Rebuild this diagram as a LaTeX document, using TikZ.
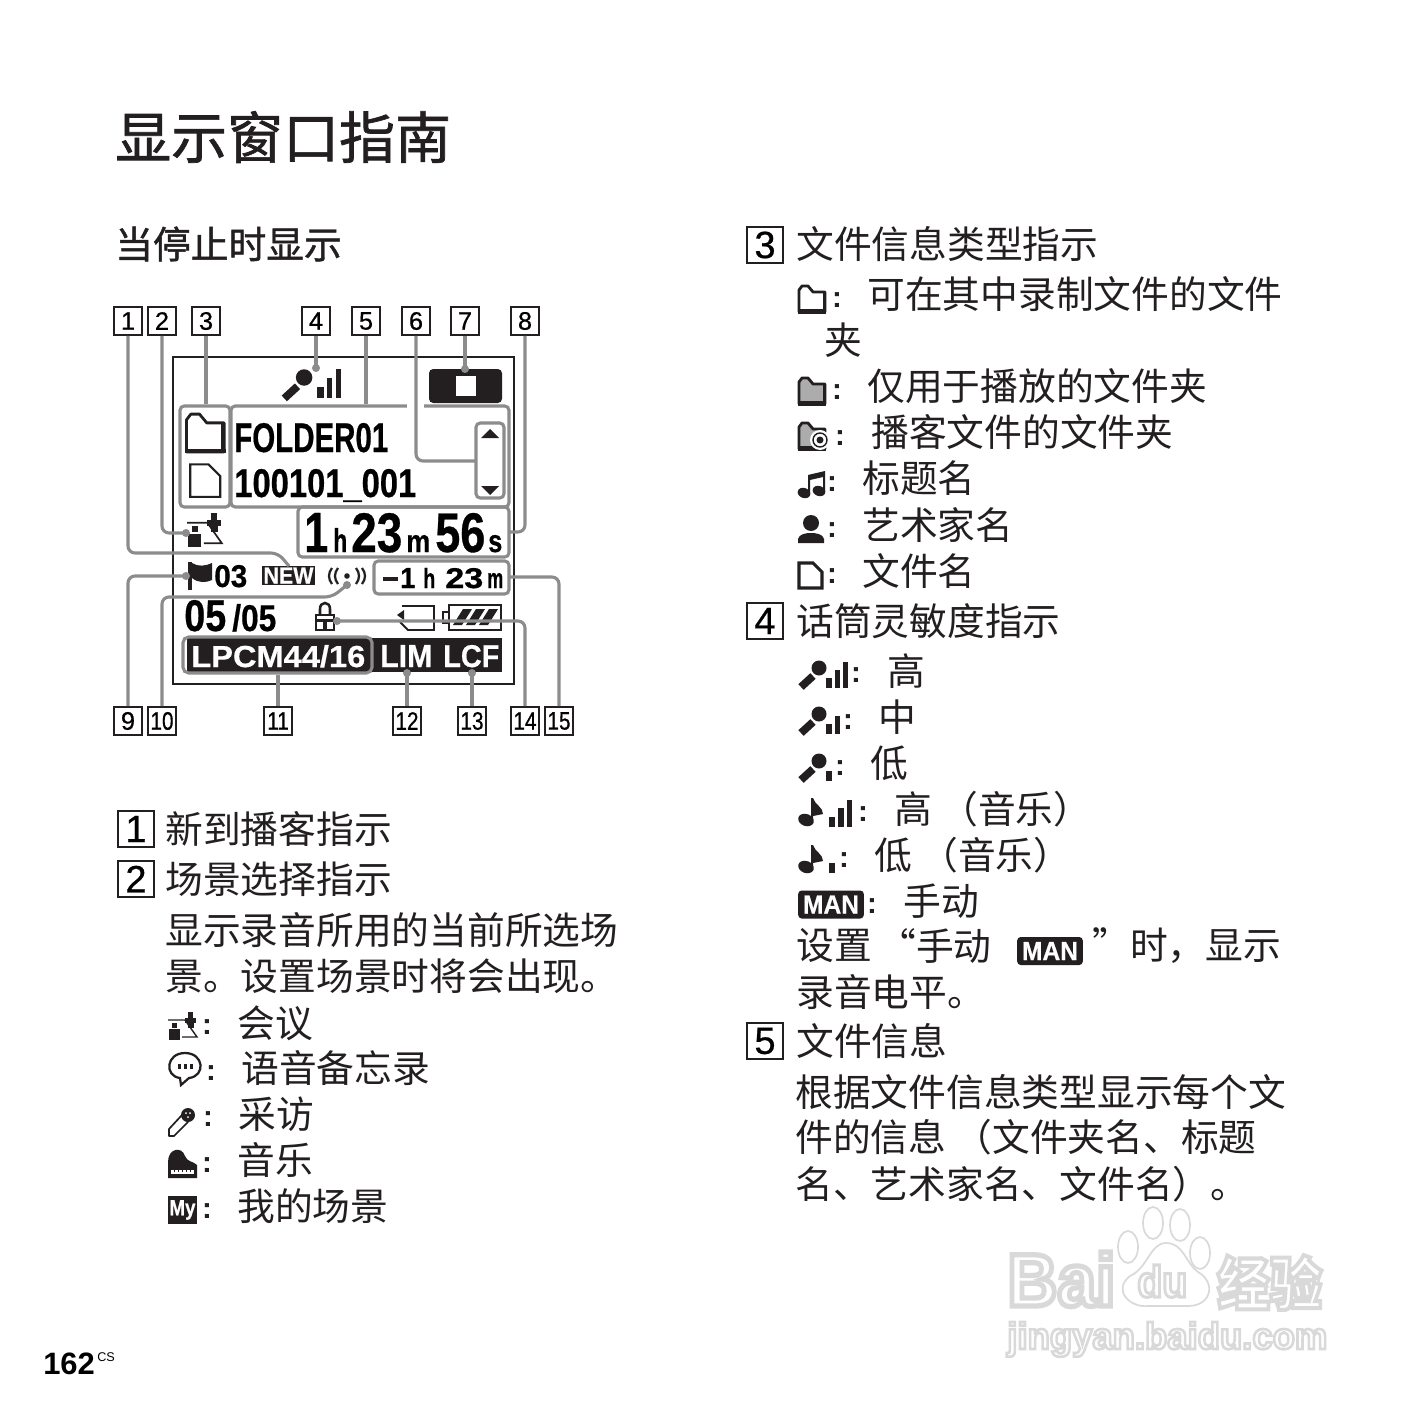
\documentclass[tikz,border=0pt]{standalone}
\usepackage{fontspec}
\usepackage{graphicx}
\setmainfont{Liberation Sans}
\newfontfamily\cjk{Noto Sans CJK SC}
\newfontfamily\cjkhead[FakeBold=1.2]{Noto Sans CJK SC}
\newfontfamily\numfont[FakeBold=0.6]{Liberation Sans}
\newfontfamily\lcdfont[UprightFont={* Bold},FakeBold=0.6]{Liberation Sans}
\usetikzlibrary{fit}
\newdimen\pxu \pxu=0.25mm
\definecolor{leadgray}{HTML}{8C8C8C}
\definecolor{lcdblack}{HTML}{231F20}
\tikzset{
  bodytxt/.style={font=\cjk\fontsize{26.85}{30}\selectfont,anchor=west,inner sep=0pt,text=lcdblack},
  colontxt/.style={font=\bfseries\fontsize{21}{24}\selectfont,inner sep=0pt,text=lcdblack},
  numbox/.style={draw=lcdblack,line width=1.2pt,minimum size=7mm,inner sep=0pt,font=\numfont\fontsize{18}{20}\selectfont},
  bignum/.style={draw=lcdblack,line width=1.5pt,minimum size=9mm,inner sep=0pt,font=\numfont\fontsize{27}{30}\selectfont},
  frameline/.style={draw=leadgray,line width=2.2pt,rounded corners=3pt,inner sep=0pt},
  leader/.style={draw=leadgray,line width=2.2pt,rounded corners=5pt},
  lcdtxt/.style={font=\lcdfont,anchor=base west,inner sep=0pt},
  wmtxt/.style={anchor=base west,inner sep=0pt,text=gray!30,font=\bfseries},
  manbadge/.style={fill=lcdblack,rounded corners=2.5pt,text=white,inner sep=0pt,font=\lcdfont\fontsize{17}{20}\selectfont,minimum width=16.4mm,minimum height=7mm},
  pics/folderic/.style={code={
    \draw[line width=2pt,fill=#1,line join=round,draw=lcdblack] (1,13) -- (1,-9) -- (4,-13) -- (10,-13) -- (15,-7) -- (27,-7) -- (27,13) -- cycle;
    \draw[line width=3pt,draw=lcdblack] (0,12.5) -- (28,12.5);
    \draw[line width=1pt,draw=lcdblack] (25.5,-6) -- (25.5,12);}},
  pics/fileic/.style={code={
    \draw[line width=#1,draw=lcdblack,fill=white,line join=miter] (1,13) -- (1,-12) -- (15,-12) -- (24,-3) -- (24,13) -- cycle;}},
  pics/noteic/.style={code={
    \fill[lcdblack,rotate around={-20:(6,9)}] (6,9) ellipse (6.5 and 5);
    \fill[lcdblack,rotate around={-20:(21,7)}] (21,7) ellipse (6.5 and 5);
    \fill[lcdblack] (10,9) -- (10,-9) -- (27,-13) -- (27,7) -- (25,7) -- (25,-7) -- (12,-4) -- (12,9) -- cycle;}},
  pics/personic/.style={code={
    \fill[lcdblack] (13,-6) circle (8);
    \fill[lcdblack] (0,14) -- (0,10) .. controls (1,5) and (8,4) .. (13,4) .. controls (18,4) and (25,5) .. (26,10) -- (26,14) -- cycle;}},
  pics/micic/.style={code={
    \fill[lcdblack] (21,-5) circle (7.5);
    \draw[lcdblack,line width=5.5pt] (3,14) -- (15,3);}},
  pics/barsic/.style={code={
    \fill[lcdblack] (0,0) rectangle (6,-10);
    \ifnum#1>1 \fill[lcdblack] (9,0) rectangle (14,-18); \fi
    \ifnum#1>2 \fill[lcdblack] (17,0) rectangle (22,-26); \fi}},
  pics/quaveric/.style={code={
    \fill[lcdblack,rotate around={-20:(8,8)}] (8,8) ellipse (8 and 6);
    \fill[lcdblack] (13,8) -- (13,-14) -- (15,-14) .. controls (17,-7) and (25,-5) .. (25,2) -- (15,4) -- (15,8) -- cycle;}},
  pics/meetic/.style={code={
    \fill[lcdblack] (4,-3) rectangle (9,2);
    \fill[lcdblack] (1,3) rectangle (12,14);
    \draw[lcdblack,line width=#1] (0,-6) -- (17,-6) -- (29,11) -- (14,11);
    \fill[lcdblack] (20,-14) rectangle (25,-8);
    \fill[lcdblack] (17,-8) rectangle (28,-3);
    \fill[lcdblack] (20,-3) rectangle (26,2);}},
}
\newcommand{\lcd}[6][black]{\node[lcdtxt,text=#1] (lcd#2-#3) at (#2,#3) {\resizebox{#4\pxu}{#5\pxu}{#6}};}
\newcommand{\hollow}[1]{\special{pdf:code 1 Tr 0.7 w}#1\special{pdf:code 0 Tr}}
\begin{document}
\begin{tikzpicture}[x=0.25mm,y=-0.25mm]
\useasboundingbox (0,0) rectangle (1416,1416);
\fill[white] (0,0) rectangle (1416,1416);
% watermark
\begin{scope}[gray!30]
\foreach \xx/\yy in {1128/1247,1153/1223,1180/1225,1200/1253} \draw[line width=1.2pt] (\xx,\yy) ellipse (10 and 16);
\draw[line width=1.2pt] (1166,1243) .. controls (1150,1243) and (1148,1268) .. (1130,1276) .. controls (1112,1290) and (1130,1308) .. (1148,1306) -- (1188,1306) .. controls (1212,1306) and (1216,1282) .. (1198,1272) .. controls (1186,1264) and (1184,1243) .. (1166,1243);
\end{scope}
\node[wmtxt] (wmba) at (1007,1306) {\resizebox{108\pxu}{54\pxu}{\hollow{Bai}}};
\node[wmtxt] (wmdu) at (1137,1297) {\resizebox{50\pxu}{32\pxu}{\hollow{du}}};
\node[wmtxt] (wmjy) at (1217,1305) {\resizebox{105\pxu}{50\pxu}{\cjk\hollow{经验}}};
\node[wmtxt] (wmur) at (1007,1349) {\resizebox{320\pxu}{27\pxu}{\hollow{jingyan.baidu.com}}};
% headings
\node[bodytxt,font=\cjkhead\fontsize{39.8}{44}\selectfont] (title) at (115,137) {显示窗口指南};
\node[bodytxt,font=\cjkhead\fontsize{26.85}{30}\selectfont] (subtitle) at (115,244) {当停止时显示};
\node[lcdtxt,font=\bfseries\fontsize{22}{24}\selectfont] (pageno) at (43,1374) {162};
\node[lcdtxt,font=\fontsize{9}{10}\selectfont] (pagecs) at (97,1361) {CS};
% number boxes round the display
\foreach \nn/\xx in {1/128,2/162,3/206,4/316,5/366,6/416,7/465,8/525} \node[numbox] (n\nn) at (\xx,321) {\nn};
\node[numbox] (n9) at (128,721) {9};
\foreach \nn/\xx in {10/162,11/278,12/407,13/472,14/525,15/559} \node[numbox] (n\nn) at (\xx,721) {\scalebox{.82}[1]{\nn}};
% display
\draw[lcdblack,line width=1.3pt] (173,357) rectangle (514,684);
\pic[scale=1.1] at (281,383) {micic};
\pic[scale=1.1] at (317,398) {barsic=3};
\fill[lcdblack,rounded corners=3pt] (429,369) rectangle (502,403);
\fill[white] (456,376) rectangle (476,396);
\pic[scale=1.45] at (185,433) {folderic=white};
\pic[scale=1.3] at (189,480) {fileic=1.5pt};
\lcd{234}{452}{154}{29}{FOLDER01}
\lcd{234}{497}{182}{28}{100101\_001}
\fill[lcdblack] (481,438) -- (490,429) -- (499,438) -- cycle;
\fill[lcdblack] (481,486) -- (490,495) -- (499,486) -- cycle;
\lcd{304}{552}{24}{39}{1}
\lcd{333}{552}{14}{24}{h}
\lcd{351}{552}{51}{39}{23}
\lcd{406}{552}{24}{17}{m}
\lcd{435}{552}{50}{39}{56}
\lcd{488}{552}{14}{17}{s}
\pic[scale=1.2] at (187,530) {meetic=1.2pt};
\fill[lcdblack] (188,562) rectangle (192,590);
\fill[lcdblack] (192,563) .. controls (198,567) and (206,566) .. (212,563) -- (212,580) .. controls (206,583) and (198,583) .. (192,578) -- cycle;
\lcd{214}{587}{33}{22}{03}
\node[fill=lcdblack,text=white,inner sep=0pt,minimum width=13.25mm,minimum height=4.75mm,font=\lcdfont] (newtag) at (288.5,575.5) {\resizebox{50\pxu}{16\pxu}{NEW}};
\fill[lcdblack] (347,576) circle (2.8);
\draw[lcdblack,line width=1.6pt] (338,568) .. controls (334,573) and (334,579) .. (338,584);
\draw[lcdblack,line width=1.6pt] (332,568) .. controls (328,573) and (328,579) .. (332,584);
\draw[lcdblack,line width=1.6pt] (356,568) .. controls (360,573) and (360,579) .. (356,584);
\draw[lcdblack,line width=1.6pt] (362,568) .. controls (366,573) and (366,579) .. (362,584);
\fill[lcdblack] (383,577) rectangle (398,581);
\lcd{400}{588}{15}{20}{1}
\lcd{423}{588}{12}{20}{h}
\lcd{445}{588}{38}{20}{23}
\lcd{487}{588}{16}{15}{m}
\lcd{184}{631}{42}{31}{05}
\lcd{232}{631}{44}{27}{/05}
\draw[lcdblack,line width=1.8pt] (316,615) rectangle (334,630);
\draw[lcdblack,line width=1.8pt] (320,615) -- (320,609) .. controls (320,601) and (330,601) .. (330,609) -- (330,615);
\fill[lcdblack] (316,619) rectangle (334,622);
\fill[lcdblack] (323,622) rectangle (327,630);
\draw[lcdblack,line width=1.4pt] (402,606) -- (434,606) -- (434,630) -- (408,630) -- (400,622);
\fill[lcdblack] (397,615) -- (404,610) -- (404,620) -- cycle;
\draw[lcdblack,line width=1.4pt] (449,605) rectangle (501,630);
\draw[lcdblack,line width=1.4pt] (443,612) rectangle (449,623);
\fill[lcdblack] (453,625) -- (463,609) -- (472,609) -- (462,625) -- cycle;
\fill[lcdblack] (466,625) -- (476,609) -- (485,609) -- (475,625) -- cycle;
\fill[lcdblack] (479,625) -- (489,609) -- (498,609) -- (488,625) -- cycle;
\fill[lcdblack] (187,638) rectangle (502,672);
\lcd[white]{191}{667}{174}{22}{LPCM44/16}
\lcd[white]{380}{667}{52}{22}{LIM}
\lcd[white]{443}{667}{56}{22}{LCF}
% grey frames
\node[frameline,fit={(180,406) (230,507)}] (fFolder) {};
\node[frameline,fit={(231,406) (509,507)}] (fInfo) {};
\draw[white,line width=3pt] (407,406) -- (424,406);
\node[frameline,fit={(476,423) (504,498)}] (fScroll) {};
\node[frameline,fit={(298,507) (509,557)}] (fTime) {};
\node[frameline,fit={(374,561) (509,594)}] (fRemain) {};
\node[frameline,rounded corners=4pt,fit={(183,637) (372,673)}] (fCodec) {};
% leaders
\coordinate (d1) at (289,566); \coordinate (c1) at (278,553);
\coordinate (d2) at (186,533); \coordinate (d4) at (316,368); \coordinate (d7) at (465,369);
\coordinate (d9) at (186,576); \coordinate (d10) at (347,585); \coordinate (c10) at (332,597);
\coordinate (d12) at (407,673); \coordinate (d13) at (472,673); \coordinate (d14) at (337,621);
\coordinate (c6) at (476,461); \coordinate (c8) at (509,532); \coordinate (c15) at (509,577);
\path[leader] (n1.south) |- (c1) -- (d1);
\path[leader] (n2.south) |- (d2);
\path[leader] (n3.south) -- (n3.south |- fFolder.north);
\path[leader] (n4.south) -- (d4);
\path[leader] (n5.south) -- (n5.south |- fInfo.north);
\path[leader] (n6.south) |- (c6);
\path[leader] (n7.south) -- (d7);
\path[leader] (n8.south) |- (c8);
\path[leader] (n9.north) |- (d9);
\path[leader] (n10.north) |- (c10) -- (d10);
\path[leader] (n11.north) -- (n11.north |- fCodec.south);
\path[leader] (n12.north) -- (d12);
\path[leader] (n13.north) -- (d13);
\path[leader] (n14.north) |- (d14);
\path[leader] (n15.north) |- (c15);
\foreach \dd in {d2,d4,d7,d9,d10,d12,d13,d14} \fill[leadgray] (\dd) circle (4);
% big numbers
\foreach \nn/\xx/\yy in {1/136/829,2/136/879,3/765/245,4/765/621,5/765/1041} \node[bignum] (b\nn) at (\xx,\yy) {\nn};
% text, left and right columns
\foreach \xx/\yy/\txt [count=\i] in {165/829/新到播客指示,165/879/场景选择指示,165/930/显示录音所用的当前所选场,165/976/景。设置场景时将会出现。,
  237/1023/会议,241/1068/语音备忘录,238/1114/采访,237/1160/音乐,237/1206/我的场景,
  796/244/文件信息类型指示,867/294/可在其中录制文件的文件,824/340/夹,867/386/仅用于播放的文件夹,871/432/播客文件的文件夹,862/478/标题名,862/525/艺术家名,862/571/文件名,
  796/621/话筒灵敏度指示,887/671/高,878/717/中,870/763/低,894/809/高\ （音乐）,874/855/低\ （音乐）,903/901/手动,796/946/设置,1092/946/”时，显示,796/992/录音电平。,
  796/1041/文件信息,795/1092/根据文件信息类型显示每个文,795/1137/件的信息\ （文件夹名、标题,795/1184/名、艺术家名、文件名）。}
  \node[bodytxt] (t\i) at (\xx,\yy) {\txt};
\node[bodytxt,anchor=east] (tq) at (992,946) {“手动};
% colons
\foreach \xx/\yy [count=\i] in {207/1027,211/1073,208/1119,207/1165,207/1211,837/300,837/392,840/438,832/484,832/530,832/576,856/675,848/722,840/768,863/814,844/860,872/906}
  \node[colontxt] (col\i) at (\xx,\yy) {:};
% icons, left column
\pic[scale=1] at (168,1026) {meetic=1pt};
\draw[lcdblack,line width=1.6pt,fill=white] (185,1053) .. controls (166,1053) and (164,1076) .. (180,1078) -- (181,1085) -- (189,1078) .. controls (206,1076) and (204,1053) .. (185,1053);
\foreach \xx in {178,184,190} \fill[lcdblack] (\xx,1064) rectangle +(3,5);
\draw[lcdblack,line width=1.2pt,fill=white,line join=round] (169,1136) -- (169,1129) -- (182,1115) -- (188,1122) -- (174,1136) -- cycle;
\fill[lcdblack] (188,1115) circle (7);
\foreach \xx/\yy in {186/1113,190/1113,188/1117} \fill[white] (\xx,\yy) circle (1);
\fill[lcdblack] (168,1178) -- (168,1162) .. controls (168,1148) and (182,1146) .. (185,1156) .. controls (187,1162) and (193,1161) .. (197,1165) -- (197,1178) -- cycle;
\fill[white] (171,1170) rectangle (194,1174);
\foreach \xx in {174,178,182,186,190} \fill[lcdblack] (\xx,1170) rectangle +(1.2,2);
\node[fill=lcdblack,text=white,inner sep=0pt,minimum size=7.2mm,font=\lcdfont] (myic) at (182.5,1210) {\resizebox{26\pxu}{15\pxu}{My}};
% icons, right column
\pic at (798,299) {folderic=white};
\pic at (798,391) {folderic=gray!65};
\pic at (798,436) {folderic=gray!65};
\fill[white] (820,440) circle (10);
\draw[lcdblack,line width=1pt] (820,440) circle (7);
\fill[lcdblack] (820,440) circle (3.5);
\pic at (798,484) {noteic};
\pic at (798,529) {personic};
\pic at (798,575) {fileic=2.2pt};
\pic at (798,673) {micic}; \pic at (826,688) {barsic=3};
\pic at (798,719) {micic}; \pic at (826,734) {barsic=2};
\pic at (798,766) {micic}; \pic at (826,781) {barsic=1};
\pic at (798,812) {quaveric}; \pic[scale=1.05] at (829,827) {barsic=3};
\pic at (798,859) {quaveric}; \pic[scale=1.05] at (829,873) {barsic=1};
\node[manbadge] (man1) at (831,904.5) {\resizebox{56\pxu}{18\pxu}{MAN}};
\node[manbadge] (man2) at (1050,951) {\resizebox{56\pxu}{18\pxu}{MAN}};
\end{tikzpicture}
\end{document}
